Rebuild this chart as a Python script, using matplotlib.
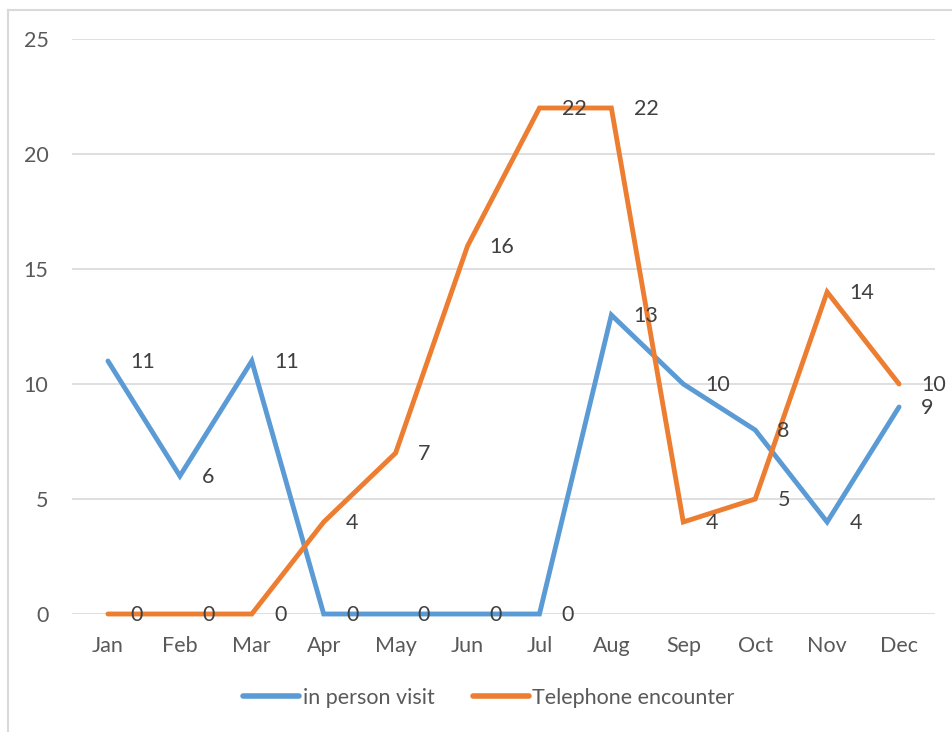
import matplotlib.pyplot as plt
from matplotlib.lines import Line2D

# monthly counts
months = ['Jan', 'Feb', 'Mar', 'Apr', 'May', 'Jun', 'Jul', 'Aug', 'Sep', 'Oct', 'Nov', 'Dec']
in_person = [11, 6, 11, 0, 0, 0, 0, 13, 10, 8, 4, 9]
telephone = [0, 0, 0, 4, 7, 16, 22, 22, 4, 5, 14, 10]

blue = '#5B9BD5'
orange = '#ED7D31'
grid_col = '#D9D9D9'
tick_col = '#595959'
label_col = '#404040'

plt.rcParams['font.family'] = ['Lato', 'DejaVu Sans']

fig = plt.figure(figsize=(9.53, 7.32), dpi=100)
ax = fig.add_axes([72 / 953, 118 / 732, (935 - 72) / 953, (614 - 39) / 732])

x = list(range(len(months)))
ax.plot(x, in_person, color=blue, lw=3.5, solid_capstyle='round',
        solid_joinstyle='miter', zorder=3, clip_on=False, label='in person visit')
ax.plot(x, telephone, color=orange, lw=3.5, solid_capstyle='round',
        solid_joinstyle='miter', zorder=3, clip_on=False, label='Telephone encounter')

# data labels to the right of each point
for series in (in_person, telephone):
    for xi, v in zip(x, series):
        ax.annotate(str(v), (xi, v), xytext=(16, -1), textcoords='offset points',
                    ha='left', va='center', fontsize=15.5, color=label_col, zorder=5)

ax.set_xlim(-0.5, 11.5)
ax.set_ylim(0, 25)
ax.set_yticks([0, 5, 10, 15, 20, 25])
ax.set_xticks(x)
ax.set_xticklabels(months)
ax.tick_params(axis='both', length=0, labelsize=15.5, colors=tick_col)
ax.tick_params(axis='y', pad=17)
ax.tick_params(axis='x', pad=16)
ax.grid(axis='y', color=grid_col, lw=1.2, zorder=0)
for s in ax.spines.values():
    s.set_visible(False)

handles = [Line2D([], [], color=blue, lw=4, solid_capstyle='round'),
           Line2D([], [], color=orange, lw=4, solid_capstyle='round')]
fig.legend(handles, ['in person visit', 'Telephone encounter'], loc='center',
           bbox_to_anchor=(489 / 953, 1 - 698 / 732), ncol=2, frameon=False,
           fontsize=15.5, labelcolor=tick_col, handlelength=2.6, handletextpad=0.15,
           columnspacing=1.8)

# chart area border (left and top visible)
fig.add_artist(Line2D([8 / 953, 8 / 953], [0, 1 - 10 / 732], color=grid_col, lw=1.5,
                      transform=fig.transFigure))
fig.add_artist(Line2D([8 / 953, 1], [1 - 10 / 732, 1 - 10 / 732], color=grid_col, lw=1.5,
                      transform=fig.transFigure))

fig.savefig('out.png', dpi=100)
